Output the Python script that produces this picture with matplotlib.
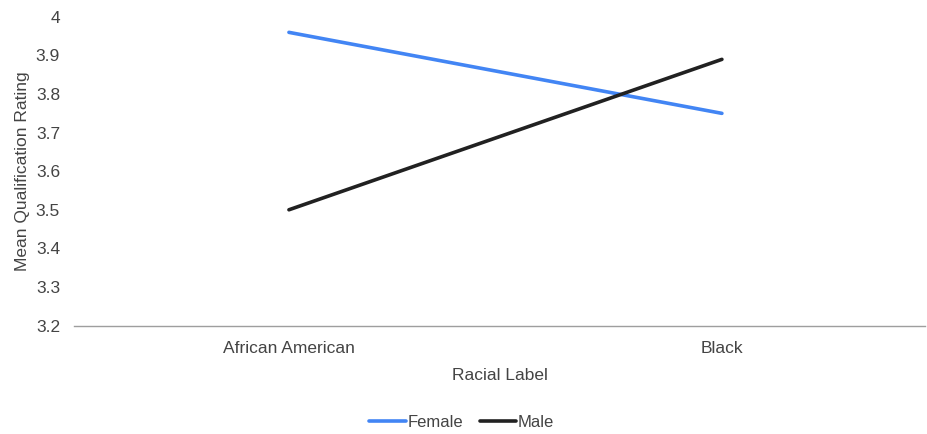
import matplotlib.pyplot as plt

plt.rcParams['font.family'] = ['Liberation Sans', 'DejaVu Sans']

categories = ['African American', 'Black']
female = [3.96, 3.75]
male = [3.50, 3.89]
y_ticks = [3.2, 3.3, 3.4, 3.5, 3.6, 3.7, 3.8, 3.9, 4.0]
y_tick_labels = ['3.2', '3.3', '3.4', '3.5', '3.6', '3.7', '3.8', '3.9', '4']

text_color = '#444444'

fig = plt.figure(figsize=(9.27, 4.34), dpi=100)
ax = fig.add_axes([0.0798, 0.25, 0.918, 0.711])

x = range(len(categories))
ax.plot(x, female, color='#4285F4', lw=2.6, solid_capstyle='round', label='Female')
ax.plot(x, male, color='#212121', lw=2.6, solid_capstyle='round', label='Male')

ax.set_xlim(-0.4965, 1.469)
ax.set_ylim(3.2, 4.0)
ax.set_yticks(y_ticks)
ax.set_yticklabels(y_tick_labels)
ax.set_xticks(list(x))
ax.set_xticklabels(categories)

for side in ['top', 'right', 'left']:
    ax.spines[side].set_visible(False)
ax.spines['bottom'].set_color('#9e9e9e')
ax.spines['bottom'].set_linewidth(1.0)

ax.tick_params(axis='both', length=0, labelsize=12.5, labelcolor=text_color)
ax.tick_params(axis='y', pad=10)
ax.tick_params(axis='x', pad=11)

ax.set_xlabel('Racial Label', fontsize=12.5, color=text_color, labelpad=9)
ax.set_ylabel('Mean Qualification Rating', fontsize=12.5, color=text_color, labelpad=4)

fig.legend(loc='center', bbox_to_anchor=(0.498, 0.027), ncol=2, frameon=False,
           fontsize=12, handlelength=2.2, handletextpad=0.1, columnspacing=1.0,
           labelcolor=text_color)

fig.savefig('out.png', dpi=100)
